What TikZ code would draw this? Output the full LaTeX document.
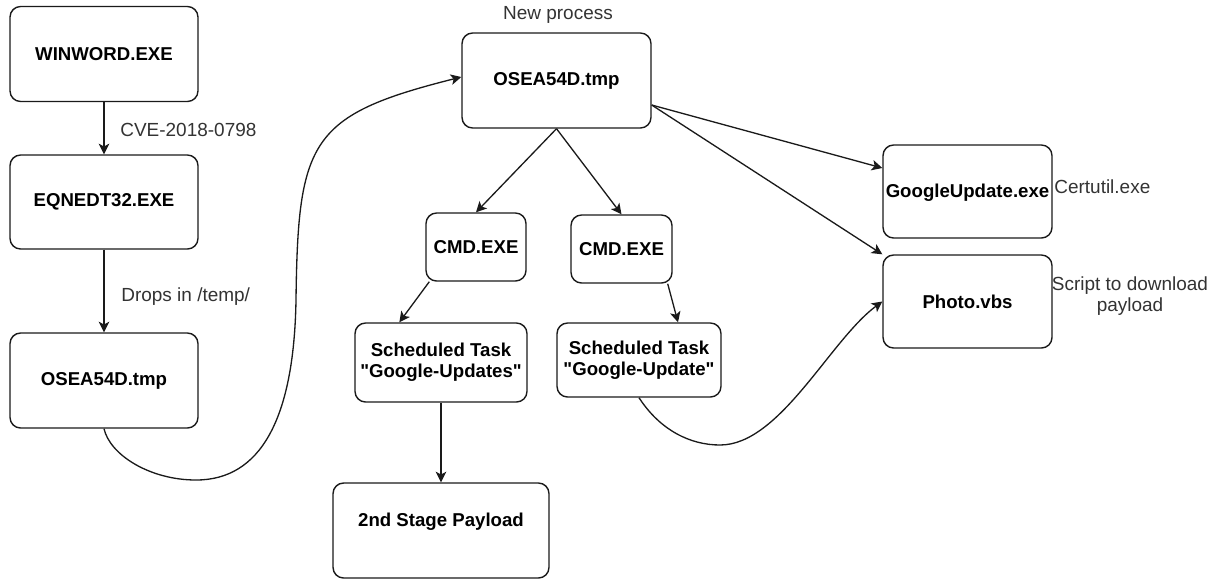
\documentclass[tikz,border=0pt]{standalone}
\usepackage{fontspec}
\setmainfont{Liberation Sans}
\usetikzlibrary{arrows.meta,calc}
\definecolor{edgec}{HTML}{1A1A1A}
\definecolor{labelc}{HTML}{333333}
\tikzset{
  box/.style={draw=edgec, line width=0.8pt, rounded corners=6pt, fill=white,
    font=\fontsize{10.6}{12}\selectfont\bfseries, align=center, inner sep=0pt},
  note/.style={font=\fontsize{10.8}{12.4}\selectfont, text=labelc, align=center, inner sep=0pt},
  arr/.style={draw=edgec, line width=0.75pt, -{Stealth[length=6pt,width=6pt,inset=1.5pt]}}
}
\begin{document}
\begin{tikzpicture}[x=0.02cm,y=-0.02cm]
\useasboundingbox (0,0) rectangle (1217,579);
% nodes
\node[box, minimum width=3.76cm, minimum height=1.9cm] (win) at (104,54) {WINWORD.EXE};
\node[box, minimum width=3.76cm, minimum height=1.88cm] (eq) at (104,202) {EQNEDT32.EXE};
\node[box, minimum width=3.76cm, minimum height=1.9cm] (osea1) at (104,380.5) {OSEA54D.tmp};
\node[box, minimum width=3.78cm, minimum height=1.9cm] (osea2) at (556.5,80.5) {OSEA54D.tmp};
\node[box, minimum width=2.0cm, minimum height=1.36cm] (cmd1) at (476,247) {CMD.EXE};
\node[box, minimum width=2.02cm, minimum height=1.36cm] (cmd2) at (621.5,249) {CMD.EXE};
\node[box, minimum width=3.44cm, minimum height=1.58cm] (sch1) at (441,362.5) {Scheduled Task\\\textquotedbl Google-Updates\textquotedbl};
\node[box, minimum width=3.28cm, minimum height=1.48cm] (sch2) at (639,360) {Scheduled Task\\\textquotedbl Google-Update\textquotedbl};
\node[box, minimum width=4.32cm, minimum height=1.9cm] (pay) at (441,530.5) {};
\node[box, draw=none, fill=none] (paytxt) at (441,522) {2nd Stage Payload};
\node[box, minimum width=3.38cm, minimum height=1.86cm] (gu) at (967.5,191.5) {};
\node[box, draw=none, fill=none] (gutxt) at (967.5,193) {GoogleUpdate.exe};
\node[box, minimum width=3.38cm, minimum height=1.86cm] (photo) at (967.5,301.5) {Photo.vbs};
% free texts
\node[note] (newproc) at (558,15) {New process};
\node[note, anchor=west] (cve) at (120,130) {CVE-2018-0798};
\node[note, anchor=west] (drops) at (121,297) {Drops in /temp/};
\node[note, anchor=west] (cert) at (1054,187) {Certutil.exe};
\node[note] (script) at (1130,296) {Script to download\\payload};
% connectors
\draw[arr] (win.south) -- (eq.north);
\draw[arr] (eq.south) -- (osea1.north);
\draw[arr] (osea1.south) .. controls (110,455) and (150,480) .. (196,480)
  .. controls (260,480) and (294,420) .. (296,300)
  .. controls (298,140) and (310,115) .. ($(osea2.west)+(0,-3.5)$);
\draw[arr] (osea2.south) -- (cmd1.north);
\draw[arr] (osea2.south) -- (cmd2.north);
\draw[arr] ($(osea2.east)+(0,24.5)$) -- ($(gu.west)+(0,-23.5)$);
\draw[arr] ($(osea2.east)+(0,24.5)$) -- (photo.north west);
\draw[arr] ($(cmd1.south west)+(4,0)$) -- ($(sch1.north west)+(45,0)$);
\draw[arr] ($(cmd2.south east)+(-5,0)$) -- ($(sch2.north)+(39,0)$);
\draw[arr] (sch1.south) -- (pay.north);
\draw[arr] (sch2.south) .. controls (660,430) and (690,445) .. (720,445)
  .. controls (780,445) and (830,340) .. (photo.west);
\end{tikzpicture}
\end{document}
